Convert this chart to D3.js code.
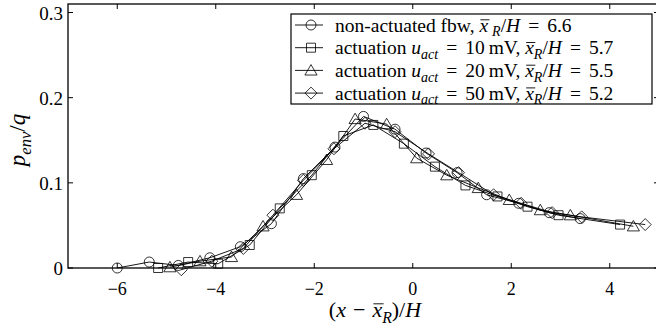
<!DOCTYPE html>
<html>
<head>
<meta charset="utf-8">
<script src="https://cdn.jsdelivr.net/npm/d3@7"></script>
</head>
<body style="margin:0">
<div id="vis"></div>
<script>
// series
const circleX = [-6.0, -5.35, -4.76, -4.12, -3.5, -2.87, -2.22, -1.58, -1.0, -0.36, 0.27, 0.9, 1.5, 2.15, 2.77, 3.4];
const circleY = [0.0, 0.007, 0.003, 0.012, 0.025, 0.052, 0.105, 0.142, 0.178, 0.163, 0.135, 0.112, 0.086, 0.076, 0.065, 0.058];

const squareX = [-5.17, -4.56, -3.95, -3.31, -2.70, -2.05, -1.41, -0.80, -0.18, 0.45, 1.07, 1.72, 2.33, 2.96, 4.21];
const squareY = [0.0, 0.007, 0.005, 0.027, 0.07, 0.109, 0.155, 0.168, 0.146, 0.119, 0.097, 0.084, 0.072, 0.062, 0.051];

const triX = [-4.93, -4.32, -3.68, -3.04, -2.36, -1.75, -1.17, -0.53, 0.08, 0.69, 1.33, 1.96, 2.59, 3.2, 4.48];
const triY = [0.001, 0.008, 0.013, 0.049, 0.086, 0.127, 0.175, 0.169, 0.129, 0.109, 0.094, 0.080, 0.068, 0.062, 0.049];

const diaX = [-4.7, -4.08, -3.44, -2.84, -2.22, -1.6, -0.97, -0.36, 0.32, 0.93, 1.64, 2.2, 2.83, 3.43, 4.72];
const diaY = [-0.002, 0.008, 0.023, 0.062, 0.103, 0.14, 0.17, 0.16, 0.134, 0.112, 0.086, 0.076, 0.065, 0.06, 0.051];

const xTicks = [-6, -4, -2, 0, 2, 4];
const yTicks = [0, 0.1, 0.2, 0.3];
const xTickLabels = ['\u22126', '\u22124', '\u22122', '0', '2', '4'];
const yTickLabels = ['0', '0.1', '0.2', '0.3'];

// legend entries: segments [text, kind, dx] kind: n normal, i italic, s subscript italic, o overlined italic
const legendItems = [
  [['non-actuated fbw, ', 'n'], ['x', 'o'], ['R', 's', 4], ['/', 'n'], ['H', 'i'], ['=', 'n', 8], ['6.6', 'n', 8]],
  [['actuation ', 'n'], ['u', 'i'], ['act', 's'], ['=', 'n', 8], ['10\u2009mV, ', 'n', 8], ['x', 'o'], ['R', 's'], ['/', 'n'], ['H', 'i'], ['=', 'n', 8], ['5.7', 'n', 8]],
  [['actuation ', 'n'], ['u', 'i'], ['act', 's'], ['=', 'n', 8], ['20\u2009mV, ', 'n', 8], ['x', 'o'], ['R', 's'], ['/', 'n'], ['H', 'i'], ['=', 'n', 8], ['5.5', 'n', 8]],
  [['actuation ', 'n'], ['u', 'i'], ['act', 's'], ['=', 'n', 8], ['50\u2009mV, ', 'n', 8], ['x', 'o'], ['R', 's'], ['/', 'n'], ['H', 'i'], ['=', 'n', 8], ['5.2', 'n', 8]]
];

const W = 656, H = 329;
const margin = {top: 4, right: -3, bottom: 61, left: 68};
const FONT = '"Liberation Serif"';

const svg = d3.select('#vis').append('svg')
  .attr('width', W)
  .attr('height', H);

const xScale = d3.scaleLinear().domain([-7, 5]).range([margin.left, W - margin.right]);
const yScale = d3.scaleLinear().domain([0, 0.31]).range([H - margin.bottom, margin.top]);

const x0 = xScale.range()[0], x1 = xScale.range()[1];
const y0 = yScale.range()[0], y1 = yScale.range()[1];

// marker shapes, size is the half width in px
const symDiamond = {
  draw(ctx, r) {
    ctx.moveTo(0, -r); ctx.lineTo(r, 0); ctx.lineTo(0, r); ctx.lineTo(-r, 0); ctx.closePath();
  }
};
const symTri = {
  draw(ctx, r) {
    ctx.moveTo(0, -r); ctx.lineTo(r * 1.05, r * 0.8); ctx.lineTo(-r * 1.05, r * 0.8); ctx.closePath();
  }
};
const symBox = {
  draw(ctx, r) { ctx.rect(-r, -r, 2 * r, 2 * r); }
};
const symRing = {
  draw(ctx, r) { ctx.moveTo(r, 0); ctx.arc(0, 0, r, 0, 2 * Math.PI); }
};

const series = [
  {xs: circleX, ys: circleY, sym: d3.symbol().type(symRing).size(5)},
  {xs: squareX, ys: squareY, sym: d3.symbol().type(symBox).size(4.5)},
  {xs: triX, ys: triY, sym: d3.symbol().type(symTri).size(5.8)},
  {xs: diaX, ys: diaY, sym: d3.symbol().type(symDiamond).size(6)}
];

const line = d3.line()
  .x(d => xScale(d[0]))
  .y(d => yScale(d[1]));

const plot = svg.append('g');

series.forEach(s => {
  const pts = s.xs.map((x, i) => [x, s.ys[i]]);
  plot.append('path')
    .attr('d', line(pts))
    .attr('fill', 'none')
    .attr('stroke', '#000')
    .attr('stroke-width', 0.9);
  plot.selectAll(null)
    .data(pts)
    .enter()
    .append('path')
    .attr('d', s.sym())
    .attr('transform', d => 'translate(' + xScale(d[0]) + ',' + yScale(d[1]) + ')')
    .attr('fill', 'none')
    .attr('stroke', '#000')
    .attr('stroke-width', 0.8);
});

// frame
svg.append('rect')
  .attr('x', x0).attr('y', y1)
  .attr('width', x1 - x0).attr('height', y0 - y1)
  .attr('fill', 'none').attr('stroke', '#000').attr('stroke-width', 1.3);

// ticks, pointing inward on all sides
const tickLen = 5;
const ax = svg.append('g').attr('stroke', '#000').attr('stroke-width', 1);
xTicks.forEach(t => {
  const x = xScale(t);
  ax.append('line').attr('x1', x).attr('x2', x).attr('y1', y0).attr('y2', y0 - tickLen);
  ax.append('line').attr('x1', x).attr('x2', x).attr('y1', y1).attr('y2', y1 + tickLen);
});
yTicks.forEach(t => {
  const y = yScale(t);
  ax.append('line').attr('x1', x0).attr('x2', x0 + tickLen).attr('y1', y).attr('y2', y);
  ax.append('line').attr('x1', x1).attr('x2', x1 - tickLen).attr('y1', y).attr('y2', y);
});

svg.selectAll('text.xt')
  .data(xTicks)
  .enter()
  .append('text')
  .attr('class', 'xt')
  .attr('x', d => xScale(d))
  .attr('y', y0 + 27)
  .attr('text-anchor', 'middle')
  .style('font-family', FONT)
  .style('font-size', '18px')
  .text((d, i) => xTickLabels[i]);

svg.selectAll('text.yt')
  .data(yTicks)
  .enter()
  .append('text')
  .attr('class', 'yt')
  .attr('x', x0 - 5)
  .attr('y', d => yScale(d) + 7)
  .attr('text-anchor', 'end')
  .style('font-family', FONT)
  .style('font-size', '19px')
  .text((d, i) => yTickLabels[i]);

// builds math-ish text from segments
function mathText(g, segs, size) {
  const t = g.append('text').style('font-family', FONT).style('font-size', size + 'px');
  let shifted = false, offset = 0;
  const overs = [];
  segs.forEach(([str, kind, dx]) => {
    const sp = t.append('tspan').text(str);
    if (dx) sp.attr('dx', dx);
    if (kind === 'i' || kind === 'o') sp.style('font-style', 'italic');
    if (kind === 's') {
      sp.style('font-style', 'italic').style('font-size', (size * 0.72) + 'px');
      if (!shifted) { sp.attr('dy', size * 0.25); shifted = true; }
    } else if (shifted) {
      sp.attr('dy', -size * 0.25); shifted = false;
    }
    if (kind === 'o') overs.push([offset, offset + str.length - 1]);
    offset += str.length;
  });
  return {t, overs};
}
// bar over the x, placed from the glyph positions
function drawOverlines(g, mt, size) {
  const node = mt.t.node();
  mt.overs.forEach(([a, b]) => {
    const s = node.getStartPositionOfChar(a);
    const e = node.getEndPositionOfChar(b);
    g.append('line')
      .attr('x1', s.x + 1).attr('x2', e.x + 1.5)
      .attr('y1', s.y - size * 0.6).attr('y2', s.y - size * 0.6)
      .attr('stroke', '#000').attr('stroke-width', 0.9);
  });
}

// legend
const lg = svg.append('g');
const legX = 291, legY = 14, legW = 361, legH = 90, rowH = 22.7;
lg.append('rect')
  .attr('x', legX).attr('y', legY).attr('width', legW).attr('height', legH)
  .attr('fill', '#fff').attr('stroke', '#000').attr('stroke-width', 1.2);
legendItems.forEach((segs, i) => {
  const cy = legY + 11 + i * rowH;
  lg.append('line')
    .attr('x1', legX + 4).attr('x2', legX + 32)
    .attr('y1', cy).attr('y2', cy)
    .attr('stroke', '#000').attr('stroke-width', 0.9);
  lg.append('path')
    .attr('d', series[i].sym())
    .attr('transform', 'translate(' + (legX + 20) + ',' + cy + ')')
    .attr('fill', 'none').attr('stroke', '#000').attr('stroke-width', 0.8);
  const g = lg.append('g').attr('transform', 'translate(' + (legX + 44) + ',' + (cy + 6.5) + ')');
  const mt = mathText(g, segs, 19.5);
  drawOverlines(g, mt, 19.5);
});

// axis labels
const xl = svg.append('g').attr('transform', 'translate(375,' + (y0 + 49) + ')');
const xlt = mathText(xl, [['(', 'n'], ['x', 'i'], ['\u2212', 'n', 7], ['x', 'o', 7], ['R', 's'], [')/', 'n'], ['H', 'i']], 22);
xlt.t.attr('text-anchor', 'middle');
drawOverlines(xl, xlt, 22);

const yl = svg.append('g').attr('transform', 'translate(25,140) rotate(-90)');
const ylt = mathText(yl, [['p', 'i'], ['env', 's'], ['/', 'n'], ['q', 'i']], 23);
ylt.t.attr('text-anchor', 'middle');
</script>
</body>
</html>
